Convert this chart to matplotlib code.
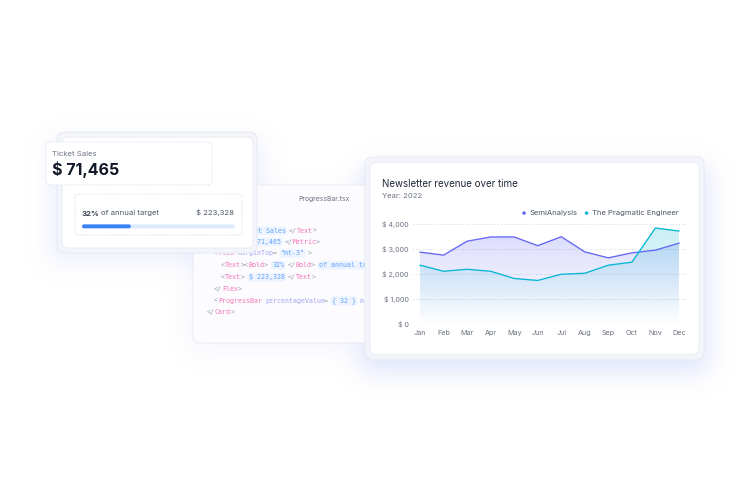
import numpy as np
import matplotlib
matplotlib.use("Agg")
import matplotlib.pyplot as plt
from matplotlib.patches import FancyBboxPatch, Circle

plt.rcParams['font.family'] = ['Inter', 'DejaVu Sans']

# ---------------- data ----------------
months = ['Jan', 'Feb', 'Mar', 'Apr', 'May', 'Jun', 'Jul', 'Aug', 'Sep', 'Oct', 'Nov', 'Dec']
semianalysis = [2880, 2760, 3320, 3490, 3490, 3140, 3500, 2890, 2650, 2850, 2960, 3240]
pragmatic = [2355, 2110, 2190, 2110, 1820, 1740, 1990, 2030, 2355, 2475, 3850, 3730]
series_names = ['SemiAnalysis', 'The Pragmatic Engineer']
y_ticks = [0, 1000, 2000, 3000, 4000]
y_tick_labels = ['$ 0', '$ 1,000', '$ 2,000', '$ 3,000', '$ 4,000']
chart_title = 'Newsletter revenue over time'
chart_subtitle = 'Year: 2022'
ticket_label = 'Ticket Sales'
ticket_value = '$ 71,465'
target_pct = 32
target_value = '$ 223,328'

INDIGO = '#6366f1'
CYAN = '#06b6d4'
GRAY = '#6b7280'
DARK = '#111827'

W, H = 750, 480
fig = plt.figure(figsize=(7.5, 4.8), dpi=100)
fig.patch.set_facecolor('white')
bg = fig.add_axes([0, 0, 1, 1])
bg.set_xlim(0, W)
bg.set_ylim(H, 0)
bg.axis('off')

# ---------------- soft shadows ----------------
def blur(a, s):
    r = int(3 * s)
    k = np.exp(-0.5 * (np.arange(-r, r + 1) / s) ** 2)
    k /= k.sum()
    a = np.apply_along_axis(lambda m: np.convolve(m, k, mode='same'), 0, a)
    a = np.apply_along_axis(lambda m: np.convolve(m, k, mode='same'), 1, a)
    return a

sh = np.zeros((H, W))
sh[140:262, 50:262] += 0.55      # ticket cards
sh[192:350, 190:370] += 0.35     # code card
sh[168:372, 362:708] += 1.0      # chart card
sh = blur(sh, 12)
img = np.zeros((H, W, 4))
img[..., 0] = 0.72
img[..., 1] = 0.76
img[..., 2] = 0.97
img[..., 3] = np.clip(sh * 0.42, 0, 1)
bg.imshow(img, extent=[0, W, H, 0], zorder=0, interpolation='bilinear')
bg.set_xlim(0, W)
bg.set_ylim(H, 0)

def card(x0, y0, x1, y1, fc='white', ec='#e5e7eb', r=5, z=1, lw=0.6, ls='-'):
    p = FancyBboxPatch((x0, y0), x1 - x0, y1 - y0,
                       boxstyle=f"round,pad=0,rounding_size={r}",
                       fc=fc, ec=ec, lw=lw, ls=ls, zorder=z)
    bg.add_patch(p)
    return p

fig.canvas.draw()
renderer = fig.canvas.get_renderer()

def text_width(t):
    return t.get_window_extent(renderer=renderer).width

# ---------------- code card ----------------
card(193, 185, 385, 343, fc='#fcfcff', ec='#e6e9f2', r=7, z=1)
bg.text(324, 201.5, 'ProgressBar.tsx', fontsize=4.9, color=GRAY,
        ha='center', va='baseline', zorder=2)

CW = 3.93
XMAX = 366.5
MONO = 'DejaVu Sans Mono'
PUNC = '#9ca3af'
TAG = '#f472b6'
ATTR = '#a5a3f5'
VAL = '#60a5fa'
code_lines = [
    (214, 230.7, [('<', PUNC), ('Text', TAG), ('>', PUNC), ('Ticket Sales', VAL), (' ', PUNC), ('</', PUNC), ('Text', TAG), ('>', PUNC)]),
    (214, 242.0, [('<', PUNC), ('Metric', TAG), ('>', PUNC), (' $ 71,465', VAL), (' ', PUNC), ('</', PUNC), ('Metric', TAG), ('>', PUNC)]),
    (214, 253.3, [('<', PUNC), ('Flex', TAG), (' ', PUNC), ('marginTop', ATTR), ('= ', PUNC), ('"mt-3"', VAL), (' >', PUNC)]),
    (221, 265.3, [('<', PUNC), ('Text', TAG), ('><', PUNC), ('Bold', TAG), ('> ', PUNC), ('32%', VAL), (' ', PUNC), ('</', PUNC), ('Bold', TAG), ('> ', PUNC), ('of annual target', VAL), (' ', PUNC), ('</', PUNC), ('Text', TAG), ('>', PUNC)]),
    (221, 277.3, [('<', PUNC), ('Text', TAG), ('> ', PUNC), ('$ 223,328', VAL), (' ', PUNC), ('</', PUNC), ('Text', TAG), ('>', PUNC)]),
    (214, 289.0, [('</', PUNC), ('Flex', TAG), ('>', PUNC)]),
    (214, 300.7, [('<', PUNC), ('ProgressBar', TAG), (' ', PUNC), ('percentageValue', ATTR), ('= ', PUNC), ('{ 32 }', VAL), (' ', PUNC), ('marginTop', ATTR), ('= ', PUNC), ('"mt-2"', VAL), (' />', PUNC)]),
    (207, 312.3, [('</', PUNC), ('Card', TAG), ('>', PUNC)]),
]
for x0, y0, toks in code_lines:
    x = x0
    for t, c in toks:
        room = int((XMAX - x) // CW)
        if room <= 0:
            break
        t = t[:room]
        kw = {}
        if c == VAL and t.strip():
            kw['bbox'] = dict(boxstyle='round,pad=0.2,rounding_size=0.4', fc='#edf3ff', ec='none')
        bg.text(x, y0, t, fontsize=4.75, family=MONO, color=c,
                ha='left', va='center', zorder=2, **kw)
        x += len(t) * CW

# ---------------- ticket cards ----------------
card(57, 132, 257, 253, fc='#f3f5fb', ec='#e4e8f2', r=8, z=3)
card(62, 137, 253, 248, fc='white', ec='#e8ebf2', r=6, z=4)
card(75, 194, 242, 235, fc='white', ec='#d9dce3', r=4, z=5, lw=0.6, ls=(0, (1.5, 1.5)))
tp = bg.text(82, 215.5, f'{target_pct}%', fontsize=5.6, color='#374151', weight='bold',
             ha='left', va='baseline', zorder=6)
bg.text(82 + text_width(tp) + 1.6, 215.5, 'of annual target', fontsize=5.6, color='#4b5563',
        ha='left', va='baseline', zorder=6)
bg.text(234.5, 215.5, target_value, fontsize=5.6, color='#4b5563',
        ha='right', va='baseline', zorder=6)
bar_x0, bar_x1 = 82, 234.5
card(bar_x0, 224.4, bar_x1, 228.3, fc='#dbeafe', ec='none', r=1.9, z=6, lw=0)
card(bar_x0, 224.4, bar_x0 + (bar_x1 - bar_x0) * target_pct / 100, 228.3,
     fc='#3b82f6', ec='none', r=1.9, z=6.5, lw=0)

card(46, 142, 212, 185, fc='white', ec='#d9dce3', r=5, z=7, lw=0.6, ls=(0, (1.5, 1.5)))
bg.text(52.5, 156.5, ticket_label, fontsize=5.6, color=GRAY,
        ha='left', va='baseline', zorder=8)
bg.text(51.5, 174.5, ticket_value, fontsize=11.5, color=DARK, weight='bold',
        ha='left', va='baseline', zorder=8)

# ---------------- chart card ----------------
card(365, 157, 704, 360, fc='#f3f5fb', ec='#e4e8f2', r=8, z=9)
card(370, 162.5, 699, 354.5, fc='white', ec='#e8ebf2', r=6, z=10)
bg.text(382, 187, chart_title, fontsize=7.0, color='#1f2937',
        ha='left', va='baseline', zorder=11)
bg.text(382, 198.5, chart_subtitle, fontsize=5.5, color=GRAY,
        ha='left', va='baseline', zorder=11)
# legend
lx = 678.5
for name, col in [(series_names[1], CYAN), (series_names[0], INDIGO)]:
    t = bg.text(lx, 215.5, name, fontsize=5.5, color='#4b5563',
                ha='right', va='baseline', zorder=11)
    wdata = text_width(t)  # 1 px == 1 data unit
    bg.add_patch(Circle((lx - wdata - 5.3, 213.1), 1.75, fc=col, ec='none', zorder=11))
    lx = lx - wdata - 14.5

# ---------------- chart axes ----------------
ax = fig.add_axes([413 / W, (H - 323.7) / H, 273 / W, 99.4 / H])
ax.set_facecolor('none')
x = np.arange(len(months))
ax.set_xlim(-0.3, 11.3)
ax.set_ylim(0, 4000)
for s in ax.spines.values():
    s.set_visible(False)
ax.set_yticks(y_ticks)
ax.set_yticklabels(y_tick_labels)
ax.set_xticks(x)
ax.set_xticklabels(months)
ax.tick_params(axis='both', length=0, labelsize=5.2, colors=GRAY)
ax.tick_params(axis='y', pad=3.0)
ax.tick_params(axis='x', pad=4.6)
for yv in y_ticks:
    ax.axhline(yv, color='#d1d5db', lw=0.7, ls=(0, (1, 2)), zorder=0)

def gradient_fill(vals, color, a_top):
    poly = ax.fill_between(x, vals, 0, facecolor='none', edgecolor='none')
    top = max(vals)
    n = 256
    rgb = matplotlib.colors.to_rgb(color)
    grad = np.zeros((n, 1, 4))
    grad[..., 0], grad[..., 1], grad[..., 2] = rgb
    grad[:, 0, 3] = np.linspace(a_top, 0.0, n)
    im = ax.imshow(grad, extent=[x[0], x[-1], 0, top], aspect='auto',
                   origin='upper', zorder=1, interpolation='bilinear')
    im.set_clip_path(poly.get_paths()[0], transform=ax.transData)

gradient_fill(semianalysis, INDIGO, 0.22)
gradient_fill(pragmatic, CYAN, 0.22)
ax.set_xlim(-0.3, 11.3)
ax.set_ylim(0, 4000)
ax.plot(x, semianalysis, color=INDIGO, lw=0.95, zorder=3, solid_joinstyle='round')
ax.plot(x, pragmatic, color=CYAN, lw=0.95, zorder=3, solid_joinstyle='round')

fig.savefig('out.png', dpi=100, facecolor='white')
